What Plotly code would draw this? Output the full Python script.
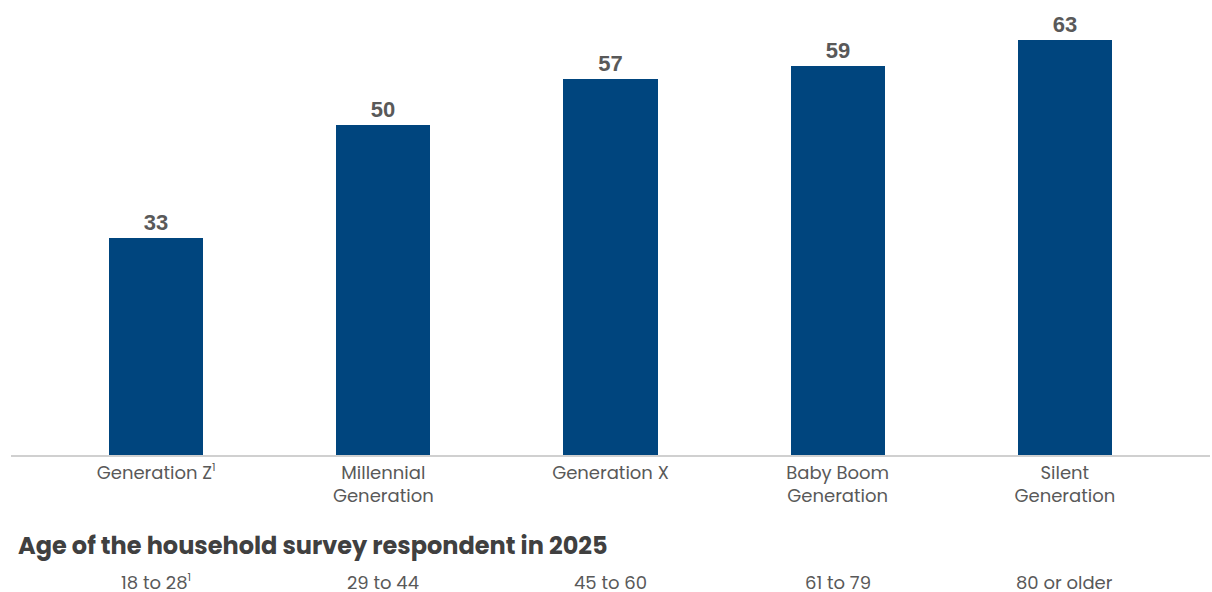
import plotly.graph_objects as go

# Survey data by generation
SUP1 = "<sup><span style='font-size:11px'>1</span></sup>"
generations = ["Generation Z" + SUP1, "Millennial<br>Generation", "Generation X",
               "Baby Boom<br>Generation", "Silent<br>Generation"]
values = [33, 50, 57, 59, 63]
age_ranges = ["18 to 28" + SUP1, "29 to 44", "45 to 60", "61 to 79", "80 or older"]
section_title = "Age of the household survey respondent in 2025"

BAR_COLOR = "#00457E"
TEXT_COLOR = "#595959"
FONT = "Poppins, 'Open Sans', sans-serif"

positions = list(range(len(generations)))

fig = go.Figure()
fig.add_trace(go.Bar(
    x=positions,
    y=values,
    width=0.414,
    marker=dict(color=BAR_COLOR, line=dict(width=0)),
    text=[str(v) for v in values],
    textposition="outside",
    textfont=dict(family="'Liberation Sans', Arial, sans-serif", size=22,
                  color=TEXT_COLOR, weight="bold"),
    cliponaxis=False,
    hoverinfo="skip",
))

# Age ranges under each generation
for p, label in zip(positions, age_ranges):
    fig.add_annotation(
        x=p, y=-0.293, xref="x", yref="paper",
        text=label, showarrow=False,
        font=dict(family=FONT, size=18, color=TEXT_COLOR),
        xanchor="center", yanchor="middle",
        height=18, borderpad=0,
    )

fig.add_annotation(
    x=0, y=-0.208, xref="paper", yref="paper",
    text=f"<b>{section_title}</b>", showarrow=False,
    font=dict(family=FONT, size=24, color="#404040"),
    xanchor="left", yanchor="middle", xshift=5,
)

fig.update_layout(
    width=1212, height=592,
    margin=dict(l=11, r=2, t=20, b=137),
    paper_bgcolor="white", plot_bgcolor="white",
    showlegend=False,
    bargap=0,
    xaxis=dict(
        range=[-0.639, 4.639],
        tickmode="array", tickvals=positions, ticktext=generations,
        tickfont=dict(family=FONT, size=18, color=TEXT_COLOR),
        showline=True, linecolor="#D0D0D0", linewidth=2,
        showgrid=False, zeroline=False, ticks="",
    ),
    yaxis=dict(
        range=[0, 66], visible=False, showgrid=False, zeroline=False,
    ),
)

fig.write_html("out.html")
